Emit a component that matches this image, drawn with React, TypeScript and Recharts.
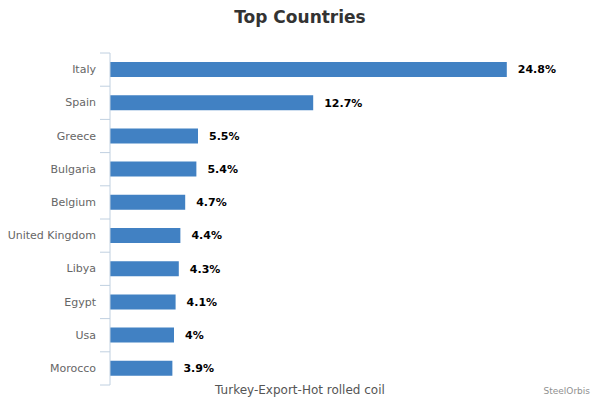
import React from "react";
import { BarChart, Bar, XAxis, YAxis, LabelList } from "recharts";

const countries = ["Italy", "Spain", "Greece", "Bulgaria", "Belgium", "United Kingdom", "Libya", "Egypt", "Usa", "Morocco"];
const shares = [24.8, 12.7, 5.5, 5.4, 4.7, 4.4, 4.3, 4.1, 4, 3.9];

const data = countries.map((name, i) => ({ name, share: shares[i] }));

const W = 600;
const H = 400;
const margin = { top: 53, right: 10, bottom: 15, left: 10 };
const band = (H - margin.top - margin.bottom) / countries.length;
const FONT = "'DejaVu Sans', 'Lucida Grande', sans-serif";

const CountryTick = (props: any) => {
  const { x, y, payload, index } = props;
  const last = index === countries.length - 1;
  return (
    <g>
      <text x={x - 14} y={y} textAnchor="end" dominantBaseline="central" fill="#666" fontSize={11} fontFamily={FONT}>
        {payload.value}
      </text>
      <line x1={x - 10} x2={x} y1={y - band / 2} y2={y - band / 2} stroke="#C0D0E0" />
      {last && <line x1={x - 10} x2={x} y1={y + band / 2} y2={y + band / 2} stroke="#C0D0E0" />}
    </g>
  );
};

export default function App() {
  return (
    <div style={{ position: "absolute", left: 0, top: 0, width: W, height: H, background: "#fff", fontFamily: FONT }}>
      <div style={{ position: "absolute", top: 7, left: 0, width: W, textAlign: "center", fontSize: 17, fontWeight: "bold", color: "#333" }}>
        Top Countries
      </div>
      <BarChart width={W} height={H} data={data} layout="vertical" margin={margin}>
        <XAxis type="number" domain={[0, 30]} hide />
        <YAxis
          type="category"
          dataKey="name"
          width={100}
          axisLine={{ stroke: "#C0D0E0" }}
          tickLine={false}
          tickSize={0}
          tickMargin={0}
          interval={0}
          tick={<CountryTick />}
        />
        <Bar dataKey="share" fill="#4181C3" barSize={15} isAnimationActive={false}>
          <LabelList
            dataKey="share"
            position="right"
            offset={11}
            formatter={(v: any) => `${v}%`}
            style={{ fill: "#000", fontSize: 11, fontWeight: "bold", fontFamily: FONT }}
          />
        </Bar>
      </BarChart>
      <div style={{ position: "absolute", top: 383, left: 0, width: W, textAlign: "center", fontSize: 12, color: "#555" }}>
        Turkey-Export-Hot rolled coil
      </div>
      <div style={{ position: "absolute", top: 386, right: 10, fontSize: 9, color: "#909090" }}>SteelOrbis</div>
    </div>
  );
}
